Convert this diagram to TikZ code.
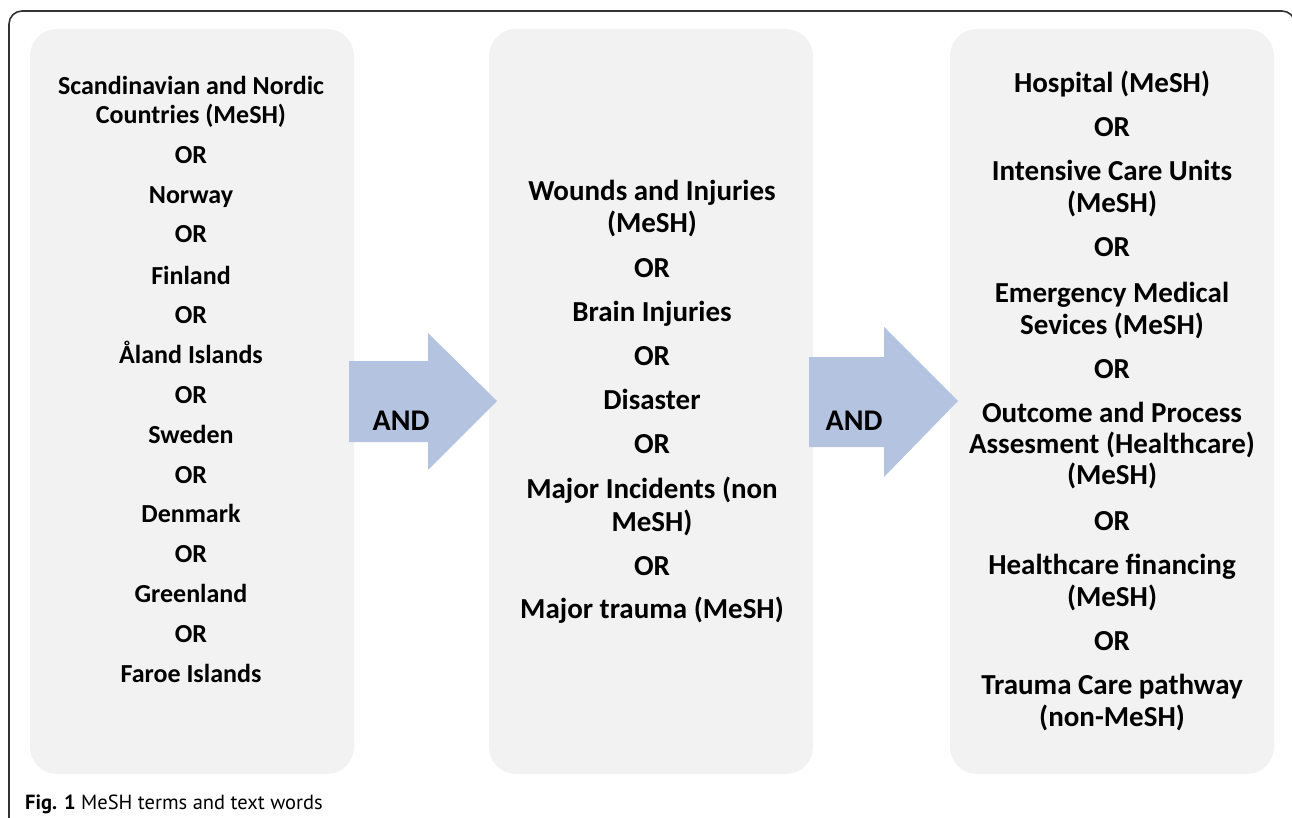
\documentclass[tikz,border=0pt]{standalone}
\usepackage{fontspec}
\setmainfont{Carlito}
\newfontfamily\capfont{PT Sans}
\definecolor{panelgray}{RGB}{242,242,242}
\definecolor{arrowblue}{RGB}{180,196,224}
\tikzset{
  panel/.style={fill=panelgray, rounded corners=27pt},
  term/.style={anchor=base, inner sep=0pt, font=\bfseries\fontsize{29}{34}\selectfont},
  lterm/.style={term, font=\bfseries\fontsize{26}{31}\selectfont},
  andlabel/.style={anchor=base, inner sep=0pt, font=\bfseries\fontsize{30}{36}\selectfont},
}
\begin{document}
\begin{tikzpicture}[x=1pt, y=-1pt]
  \useasboundingbox (0,0) rectangle (1292,818);

  % Outer frame (open at the bottom)
  \draw[line width=1.6pt, black!80, rounded corners=13pt] (9,830) -- (9,11) -- (1295,11) -- (1295,830);

  % Grey panels
  \foreach \x in {30, 489, 950} {
    \fill[panel] (\x,29) rectangle (\x+324, 774);
  }

  % Block arrows
  \fill[arrowblue] (349,361) -- (428,361) -- (428,333) -- (497,401) -- (428,470) -- (428,442) -- (349,442) -- cycle;
  \fill[arrowblue] (809,357) -- (884,357) -- (884,327) -- (958,401) -- (884,477) -- (884,447) -- (809,447) -- cycle;
  \node[andlabel] (and1) at (401,430) {AND};
  \node[andlabel] (and2) at (854,430) {AND};

  % Left panel: countries
  \foreach [count=\i] \y/\t in {95/Scandinavian and Nordic, 124/Countries (MeSH), 164/OR, 204/Norway,
      243/OR, 284/Finland, 323/OR, 363/Åland Islands, 403/OR, 443/Sweden, 483/OR, 522/Denmark,
      562/OR, 602/Greenland, 642/OR, 682/Faroe Islands} {
    \node[lterm] (left\i) at (191,\y) {\t};
  }

  % Middle panel: injuries
  \foreach [count=\i] \y/\t in {201/Wounds and Injuries, 233/(MeSH), 277/OR, 321/Brain Injuries,
      365/OR, 409/Disaster, 453/OR, 498/Major Incidents (non, 531/MeSH), 575/OR,
      618/Major trauma (MeSH)} {
    \node[term] (mid\i) at (652,\y) {\t};
  }

  % Right panel: care settings
  \foreach [count=\i] \y/\t in {93/Hospital (MeSH), 137/OR, 181/Intensive Care Units, 213/(MeSH),
      257/OR, 302/Emergency Medical, 334/Sevices (MeSH), 378/OR, 422/Outcome and Process,
      453/Assesment (Healthcare), 484/(MeSH), 530/OR, 574/Healthcare financing, 606/(MeSH),
      650/OR, 694/Trauma Care pathway, 726/(non-MeSH)} {
    \node[term] (right\i) at (1112,\y) {\t};
  }

  % Caption
  \node[anchor=base west, inner sep=0pt, font=\capfont\fontsize{20.5}{24}\selectfont] (caption) at (25,809)
    {\textbf{Fig. 1} MeSH terms and text words};
\end{tikzpicture}
\end{document}
